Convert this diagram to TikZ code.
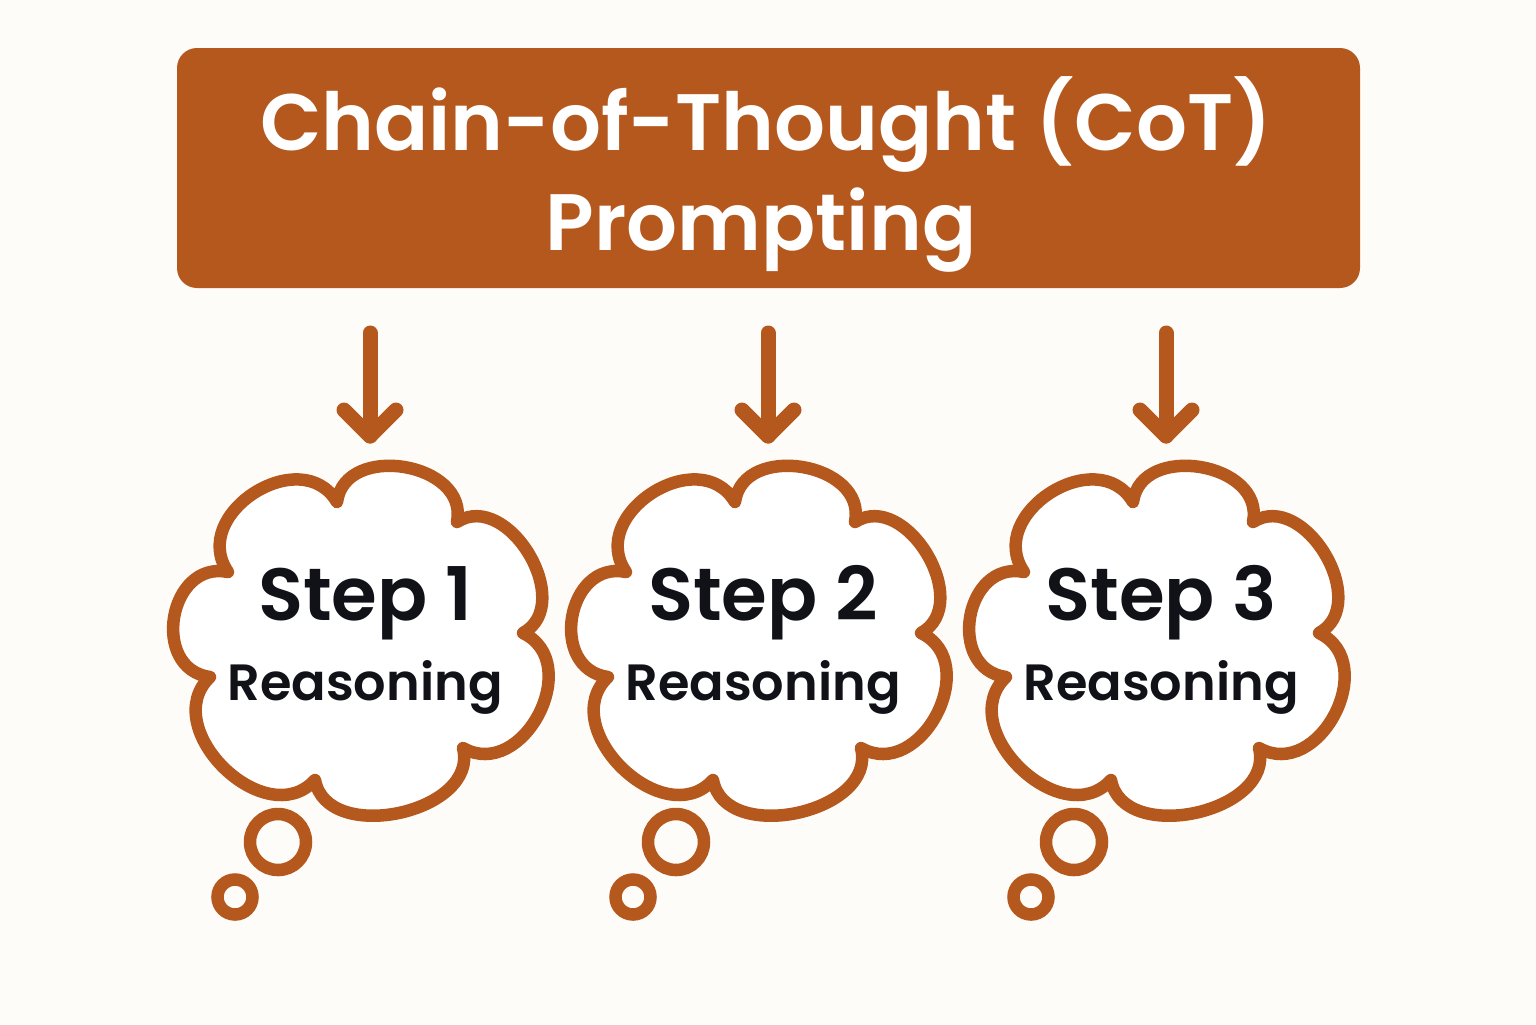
\documentclass[tikz,border=0pt]{standalone}
\usepackage{fontspec}
\setmainfont{Poppins}
\newfontfamily\popsb{Poppins SemiBold}
\usetikzlibrary{calc}
\definecolor{rust}{RGB}{181,88,30}
\definecolor{bgc}{RGB}{253,252,249}
\definecolor{ink}{RGB}{17,17,24}
\newcommand\cbump[3]{.. controls ($(#1)!#3!92:(#2)$) and ($(#2)!#3!-92:(#1)$) .. (#2)}
\tikzset{
  titlebox/.style={fill=rust, rounded corners=10pt, minimum width=591.5pt, minimum height=120pt, inner sep=0pt},
  titletext/.style={text=white, font=\popsb\fontsize{40}{46}\selectfont, inner sep=0pt, anchor=base},
  steptext/.style={text=ink, font=\popsb\fontsize{37}{40}\selectfont, inner sep=0pt, anchor=base},
  reastext/.style={text=ink, font=\popsb\fontsize{25.5}{30}\selectfont, inner sep=0pt, anchor=base},
  arrowline/.style={draw=rust, line width=7.5pt, line cap=round, line join=round},
  cloudline/.style={draw=rust, fill=white, line width=6.25pt, line join=round},
  bubble/.style={draw=rust, line width=6.25pt}
}
\begin{document}
\begin{tikzpicture}[x=0.5pt,y=-0.5pt]
\fill[bgc] (0,0) rectangle (1536,1024);
\useasboundingbox (0,0) rectangle (1536,1024);
\node[titlebox] (title) at (768.5,168) {};
\node[titletext] (t1) at (766,150) {Chain-of-Thought (CoT)};
\node[titletext] (t2) at (761,250) {Prompting};
\foreach \i/\cx/\ax in {1/362/370, 2/760/768, 3/1158/1166}{
  \coordinate (as\i) at (\ax,333);
  \coordinate (ae\i) at (\ax,436);
  \draw[arrowline] (as\i) -- (ae\i);
  \draw[arrowline] ($(ae\i)+(-26,-26)$) -- (ae\i) -- ($(ae\i)+(26,-26)$);
  \begin{scope}[shift={(\cx,640)}]
    \coordinate (q1) at (-25,-138);
    \coordinate (q2) at (95,-118);
    \coordinate (q3) at (161,-7);
    \coordinate (q4) at (101,108);
    \coordinate (q5) at (-47,140);
    \coordinate (q6) at (-152,37);
    \coordinate (q7) at (-134,-68);
    \draw[cloudline] (q1) \cbump{q1}{q2}{0.50} \cbump{q2}{q3}{0.47} \cbump{q3}{q4}{0.53} \cbump{q4}{q5}{0.44} \cbump{q5}{q6}{0.50} \cbump{q6}{q7}{0.57} \cbump{q7}{q1}{0.54} -- cycle;
    \draw[bubble] (-84,202) circle[radius=14pt];
    \draw[bubble] (-127,257) circle[radius=8.75pt];
    \node[steptext] (s\i) at (3,620-640) {Step \i};
    \node[reastext] (r\i) at (3,700-640) {Reasoning};
  \end{scope}
}
\end{tikzpicture}
\end{document}
